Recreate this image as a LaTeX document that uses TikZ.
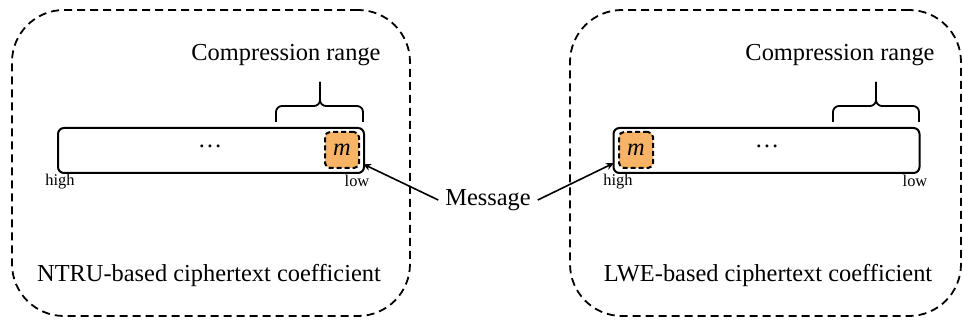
\documentclass[tikz,border=0pt]{standalone}
\usepackage{fontspec}
\setmainfont{Liberation Serif}
\usetikzlibrary{arrows.meta, calc}
\definecolor{msgorange}{RGB}{248,180,102}

\begin{document}
\begin{tikzpicture}[x=0.5pt, y=-0.5pt,
    outer/.style={draw, dash pattern=on 4pt off 2.5pt, line width=0.9pt, rounded corners=26pt, minimum width=199pt, minimum height=153pt},
    bar/.style={draw, line width=1pt, rounded corners=3pt, minimum width=153pt, minimum height=22.5pt, inner sep=0pt},
    msgbox/.style={draw, fill=msgorange, dash pattern=on 2.5pt off 1.5pt, line width=1pt, rounded corners=2.5pt, minimum width=17pt, minimum height=18pt, inner sep=0pt},
    big/.style={font=\fontsize{12.2}{14}\selectfont},
    small/.style={font=\fontsize{8.2}{10}\selectfont},
    brace/.style={line width=0.9pt, rounded corners=3pt},
    pointer/.style={-{Stealth[length=4pt, width=3.5pt]}, line width=0.8pt}]
    \useasboundingbox (0,0) rectangle (963,325);
    % dashed frames
    \node[outer] (frameL) at (211,163) {};
    \node[outer, minimum width=195.5pt] (frameR) at (765.5,163) {};
    % coefficient bars
    \node[bar] (barL) at (211,150.5) {};
    \node[bar] (barR) at (766.5,150.5) {};
    \node[msgbox, big] (mL) at (342,150) {\textit{m}};
    \node[msgbox, big] (mR) at (636,150) {\textit{m}};
    \node[big] (dotsL) at (210,146) {\dots};
    \node[big] (dotsR) at (767,146) {\dots};
    % bit order
    \node[small] (highL) at (60,182) {high};
    \node[small] (lowL) at (357,181) {low};
    \node[small] (highR) at (618,182) {high};
    \node[small] (lowR) at (915,181) {low};
    % compression range
    \node[big] (crL) at (286,55) {Compression range};
    \node[big] (crR) at (840,55) {Compression range};
    \draw[brace] (276,122) -- (276,106) -- (320,106) -- (320,82);
    \draw[brace] (363,122) -- (363,106) -- (320,106) -- (320,82);
    \draw[brace] (833,122) -- (833,106) -- (876,106) -- (876,82);
    \draw[brace] (919,122) -- (919,106) -- (876,106) -- (876,82);
    % captions
    \node[big] (ntru) at (209,276) {NTRU-based ciphertext coefficient};
    \node[big] (lwe) at (768,276) {LWE-based ciphertext coefficient};
    % message
    \node[big] (msg) at (488,200) {Message};
    \coordinate (tipL) at (363,164);
    \coordinate (tipR) at (614,163);
    \draw[pointer] (msg.west) -- (tipL);
    \draw[pointer] (msg.east) -- (tipR);
\end{tikzpicture}
\end{document}
